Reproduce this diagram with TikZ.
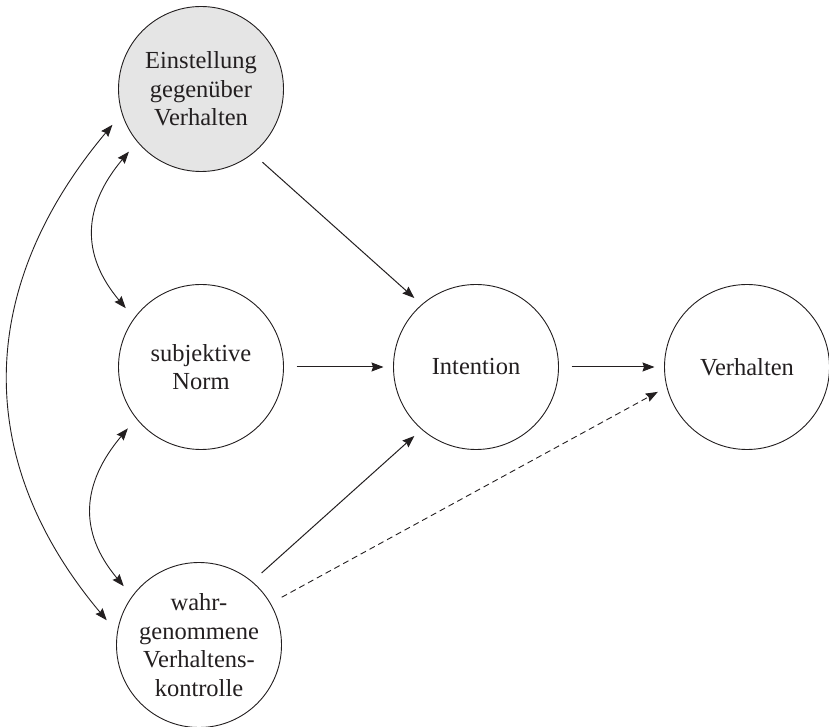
\documentclass[tikz,border=0pt]{standalone}
\usepackage{fontspec}
\setmainfont{Liberation Serif}
\usetikzlibrary{arrows.meta}
\definecolor{ink}{HTML}{231F20}
\definecolor{shade}{HTML}{E5E5E5}
\begin{document}
\begin{tikzpicture}[x=1pt,y=1pt,
  circ/.style={circle, draw=ink, line width=0.9pt, minimum size=165pt, inner sep=0pt, outer sep=13pt, align=center, text=ink, font=\fontsize{24.5}{28.5}\selectfont},
  arr/.style={draw=ink, line width=1pt, -{Stealth[length=12pt,width=9pt,inset=1.5pt]}, shorten >=-3pt},
  dasharr/.style={arr, line width=0.9pt, dash pattern=on 6pt off 4pt},
  biarr/.style={draw=ink, line width=0.9pt, {Stealth[length=12pt,width=9pt,inset=1.5pt]}-{Stealth[length=12pt,width=9pt,inset=1.5pt]}}
]
\useasboundingbox (0,0) rectangle (829,726);
\node[circ, fill=shade] (A) at (201,637) {Einstellung\\gegenüber\\Verhalten};
\node[circ] (N) at (201,359) {subjektive\\Norm};
\node[circ] (I) at (476,359) {Intention};
\node[circ] (V) at (747,359) {Verhalten};
\node[circ] (K) at (199,81) {wahr-\\genommene\\Verhaltens-\\kontrolle};

\draw[arr] (A.310) -- (I.132);
\draw[arr] (N) -- (I);
\draw[arr] (I) -- (V);
\draw[arr] (K.49) -- (I.228);
\draw[dasharr] (K.30) -- (V.196);

\draw[biarr] (A.221) to[out=230, in=130, looseness=1.16] (N.142);
\draw[biarr] (N.220) to[out=230, in=130, looseness=1.16] (K.142);
\draw[biarr] (A.202) to[out=230, in=130, looseness=1.087] (K.165);
\end{tikzpicture}
\end{document}
